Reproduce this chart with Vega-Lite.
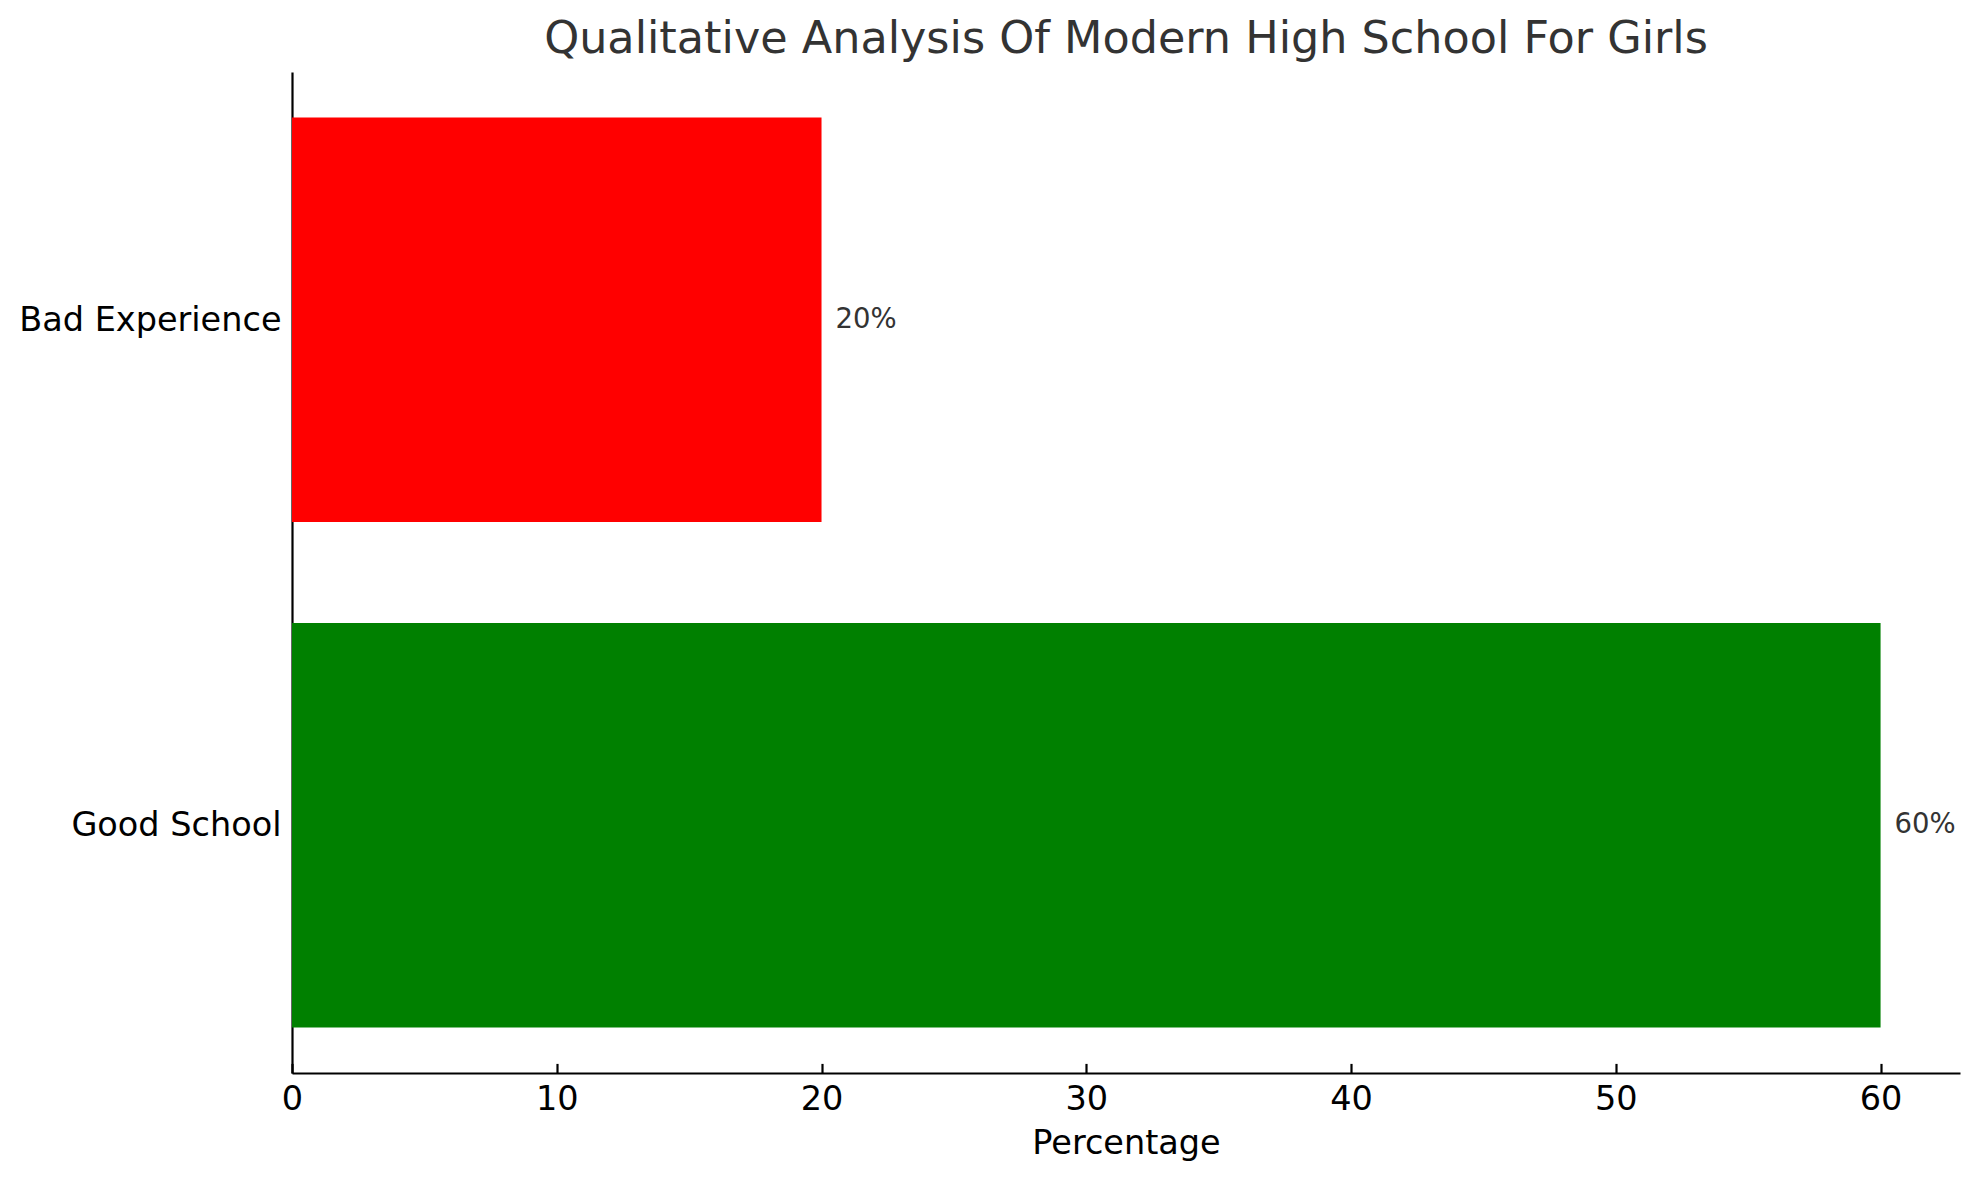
{
  "$schema": "https://vega.github.io/schema/vega-lite/v6.json",
  "width": 1668,
  "height": 1001,
  "autosize": {"type": "none"},
  "padding": {"left": 292, "top": 72, "right": 19, "bottom": 107},
  "background": "#ffffff",
  "view": {"stroke": null},
  "title": {
    "text": "Qualitative Analysis Of Modern High School For Girls",
    "font": "DejaVu Sans",
    "fontSize": 44.5,
    "fontWeight": "normal",
    "color": "#333333",
    "anchor": "middle",
    "frame": "group",
    "baseline": "alphabetic",
    "offset": -25
  },
  "data": {
    "values": [
      {"category": "Bad Experience", "percentage": 20, "label": "20%"},
      {"category": "Good School", "percentage": 60, "label": "60%"}
    ]
  },
  "encoding": {
    "y": {
      "field": "category",
      "type": "nominal",
      "sort": ["Bad Experience", "Good School"],
      "scale": {"paddingInner": 0.2, "paddingOuter": 0.09},
      "axis": {
        "title": null,
        "labelFont": "DejaVu Sans",
        "labelFontSize": 33.5,
        "labelColor": "#000000",
        "labelPadding": 20.6,
        "labelLimit": 400,
        "labelOffset": 1,
        "domainColor": "#000000",
        "domainWidth": 2.2,
        "tickColor": "#000000",
        "tickWidth": 2.2,
        "tickSize": -9.6,
        "grid": false
      }
    },
    "x": {
      "field": "percentage",
      "type": "quantitative",
      "scale": {"domain": [0, 63], "nice": false, "zero": true},
      "axis": {
        "title": "Percentage",
        "titleFont": "DejaVu Sans",
        "titleFontSize": 33.5,
        "titleFontWeight": "normal",
        "titleColor": "#000000",
        "titleBaseline": "alphabetic",
        "titleY": 80,
        "values": [0, 10, 20, 30, 40, 50, 60],
        "labelFont": "DejaVu Sans",
        "labelFontSize": 33.5,
        "labelColor": "#000000",
        "labelPadding": 19.6,
        "labelFlush": false,
        "labelBound": false,
        "domainColor": "#000000",
        "domainWidth": 2.2,
        "tickColor": "#000000",
        "tickWidth": 2.2,
        "tickSize": -9.6,
        "grid": false
      }
    }
  },
  "layer": [
    {
      "mark": {"type": "bar", "orient": "horizontal"},
      "encoding": {
        "color": {
          "field": "category",
          "type": "nominal",
          "scale": {"domain": ["Bad Experience", "Good School"], "range": ["#ff0000", "#008000"]},
          "legend": null
        }
      }
    },
    {
      "mark": {
        "type": "text",
        "align": "left",
        "baseline": "middle",
        "dx": 14,
        "font": "DejaVu Sans",
        "fontSize": 27.5,
        "color": "#333333"
      },
      "encoding": {
        "text": {"field": "label"}
      }
    }
  ]
}
